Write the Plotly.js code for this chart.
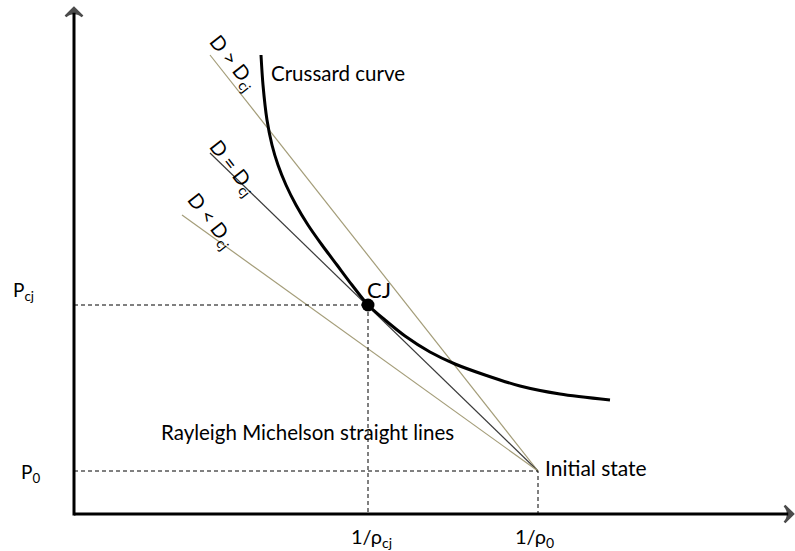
<!DOCTYPE html>
<html>
<head>
<meta charset="utf-8">
<script src="https://cdn.plot.ly/plotly-3.0.1.min.js"></script>
<style>html,body{margin:0;padding:0;background:#fff;}#chart{width:795px;height:551px;}</style>
</head>
<body>
<div id="chart"></div>
<script>
// Schematic diagram values (specific volume v = 1/rho, pressure P), in diagram units
const crussardV = [261,263,267,272,278,286,296,308,322,337,352,368,385,405,430,455,485,520,560,610];
const crussardP = [496,466,431,406,386,366,346,326,306,286,266,246,231,215,199,187,176,165,157,151];

const v0 = 538, p0 = 80;       // initial state
const vCJ = 368, pCJ = 246;    // Chapman-Jouguet point

const rayleighLabels = ['D &gt; D<sub>cj</sub>', 'D = D<sub>cj</sub>', 'D &lt; D<sub>cj</sub>'];
const rayleighEndV = [210, 210, 182];
const rayleighEndP = [496, 398, 336];
const rayleighColors = ['#a49d79', '#3a3a3a', '#a49d79'];

const axisOriginV = 74, axisOriginP = 37;
const axisEndV = 793, axisEndP = 543;

const tickLabels = ['1/ρ<sub>cj</sub>', '1/ρ<sub>0</sub>'];
const pLabels = ['P<sub>cj</sub>', 'P<sub>0</sub>'];

const FONT = 'Lato, Carlito, "Open Sans", sans-serif';

const traces = [];

// Axes with arrow tips
const axisMarker = {symbol: ['circle', 'arrow-wide'], size: [0, 12], angleref: 'previous', color: '#000',
                    line: {width: 2.5, color: '#000'}};
traces.push({x: [axisOriginV, axisEndV], y: [axisOriginP, axisOriginP], mode: 'lines+markers',
  line: {color: '#000', width: 3}, marker: axisMarker, hoverinfo: 'skip'});
traces.push({x: [axisOriginV, axisOriginV], y: [axisOriginP - 1.5, axisEndP], mode: 'lines+markers',
  line: {color: '#000', width: 3}, marker: axisMarker, hoverinfo: 'skip'});

// Rayleigh-Michelson lines
rayleighEndV.forEach((ve, i) => {
  traces.push({
    x: [v0, ve], y: [p0, rayleighEndP[i]], mode: 'lines',
    line: {color: rayleighColors[i], width: 1.2}, hoverinfo: 'skip'
  });
});

// Dashed guide lines
traces.push({x: [axisOriginV, v0, v0], y: [p0, p0, axisOriginP], mode: 'lines',
  line: {color: '#000', width: 1, dash: '4px,3px'}, hoverinfo: 'skip'});
traces.push({x: [axisOriginV, vCJ, vCJ], y: [pCJ, pCJ, axisOriginP], mode: 'lines',
  line: {color: '#000', width: 1, dash: '4px,3px'}, hoverinfo: 'skip'});

// Crussard curve
traces.push({x: crussardV, y: crussardP, mode: 'lines',
  line: {color: '#000', width: 3, shape: 'spline', smoothing: 0.8}, hoverinfo: 'skip'});

// CJ point
traces.push({x: [vCJ], y: [pCJ], mode: 'markers',
  marker: {color: '#000', size: 13}, hoverinfo: 'skip'});

const ann = [];
const txt = (text, x, y, size, opts) => Object.assign({
  text, x, y, xref: 'x', yref: 'y', showarrow: false,
  font: {family: FONT, size, color: '#000'}, xanchor: 'center', yanchor: 'middle'
}, opts || {});

ann.push(txt('Crussard curve', 269, 478, 20.5, {xanchor: 'left'}));
ann.push(txt('CJ', 365, 262, 22, {xanchor: 'left'}));
ann.push(txt('Rayleigh Michelson straight lines', 307, 119, 20.5));
ann.push(txt('Initial state', 543, 84, 21, {xanchor: 'left'}));

// rotated Rayleigh labels
const labelV = [233, 233, 211];
const labelP = [489, 384, 331];
rayleighLabels.forEach((t, i) => ann.push(txt(t, labelV[i], labelP[i], 20, {textangle: 52})));

// axis labels
ann.push(txt(pLabels[0], 11, pCJ + 14, 19, {xanchor: 'left'}));
ann.push(txt(pLabels[1], 19, p0 - 2, 19, {xanchor: 'left'}));
ann.push(txt(tickLabels[0], vCJ + 3, 14, 20));
ann.push(txt(tickLabels[1], v0 - 4, 14, 20));

const layout = {
  width: 795, height: 551,
  margin: {l: 0, r: 0, t: 0, b: 0},
  paper_bgcolor: '#fff', plot_bgcolor: '#fff',
  showlegend: false,
  xaxis: {range: [0, 795], visible: false, fixedrange: true},
  yaxis: {range: [0, 551], visible: false, fixedrange: true},
  annotations: ann
};

Plotly.newPlot('chart', traces, layout, {staticPlot: true, displayModeBar: false});
</script>
</body>
</html>
